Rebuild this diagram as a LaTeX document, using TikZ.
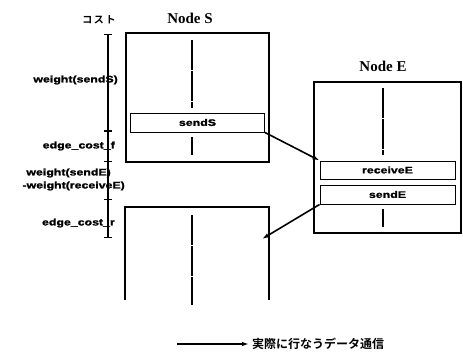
\documentclass[tikz,border=0pt]{standalone}
\usepackage{fontspec}
\setmainfont{Liberation Serif}
\newfontfamily\lblfont{Liberation Sans}[FakeStretch=1.3, FakeBold=1.5]
\newfontfamily\jpfont{Noto Sans CJK JP Bold}
\usetikzlibrary{positioning,arrows.meta}

\begin{document}
\begin{tikzpicture}[
  x=1pt, y=-1pt,
  blk/.style={draw, line width=1.4pt, inner sep=0pt},
  task/.style={draw, line width=1pt, inner sep=0pt, minimum width=134pt,
               font=\lblfont\bfseries\fontsize{9.5}{10}\selectfont},
  title/.style={font=\bfseries\fontsize{15}{16}\selectfont},
  lbl/.style={font=\lblfont\bfseries\fontsize{9.5}{10}\selectfont, inner sep=0pt},
  ctr/.style={line width=1.4pt, dash pattern=on 30pt off 1.2pt},
  axis/.style={line width=1.4pt, {Bar[width=8pt]}-{Bar[width=8pt]}},
  msg/.style={-{Latex[length=7pt,width=4.5pt]}, line width=1.6pt}
]
\useasboundingbox (0,0) rectangle (463,357);
% ---- cost axis ----
\node[font=\jpfont\fontsize{10}{10}\selectfont] (cost) at (99,20) {コ\,ス\,ト};
\coordinate (a0) at (108,34);
\coordinate (a1) at (108,131);
\coordinate (a2) at (108,162);
\coordinate (a3) at (108,199);
\coordinate (a4) at (108,238);
\draw[axis] (a0) -- (a1);
\draw[axis] (a1) -- (a2);
\draw[line width=1.4pt] (a2) -- (a3);
\draw[axis] (a3) -- (a4);
\node[lbl, anchor=east] (wS)  at (118,80)  {weight(sendS)};
\node[lbl, anchor=east] (ecf) at (115,146) {edge\_cost\_f};
\node[lbl, anchor=east] (wE)  at (111,173) {weight(sendE)};
\node[lbl, anchor=east] (wR)  at (125,186) {-weight(receiveE)};
\node[lbl, anchor=east] (ecr) at (115,223) {edge\_cost\_r};
% ---- node S ----
\node[blk, minimum width=143pt, minimum height=129pt] (nodeS) at (197.5,97.5) {};
\node[title] (titleS) at (190,18) {Node S};
\node[task, minimum height=19pt] (sendS) at (197.5,122.5) {sendS};
\draw[ctr] (192,40) -- (192,108);
\draw[ctr] (192,137) -- (192,155);
% next round of S (open at the bottom)
\draw[line width=1.4pt] (125,300) |- (269,207) -- (269,300);
\draw[ctr] (192,215) -- (192,305);
\coordinate (recvS) at (262,239);
% ---- node E ----
\node[blk, minimum width=147pt, minimum height=151pt] (nodeE) at (387.5,157.5) {};
\node[title] (titleE) at (383,66) {Node E};
\node[task, minimum height=18pt, minimum width=135pt] (receiveE) at (387.5,170) {receiveE};
\node[task, minimum height=19pt, minimum width=135pt] (sendE) at (387.5,194.5) {sendE};
\draw[ctr] (383,88) -- (383,155);
\draw[ctr] (383,209) -- (383,227);
% ---- communication ----
\draw[msg] (sendS.south east) -- (receiveE.north west);
\draw[msg] (sendE.south west) -- (recvS);
% ---- legend ----
\coordinate (lgA) at (177,344);
\coordinate (lgB) at (249,344);
\draw[msg] (lgA) -- (lgB);
\node[font=\jpfont\fontsize{12}{12}\selectfont, right=3pt of lgB, inner sep=0pt] (lgtxt) {実際に行なうデータ通信};
\end{tikzpicture}
\end{document}
